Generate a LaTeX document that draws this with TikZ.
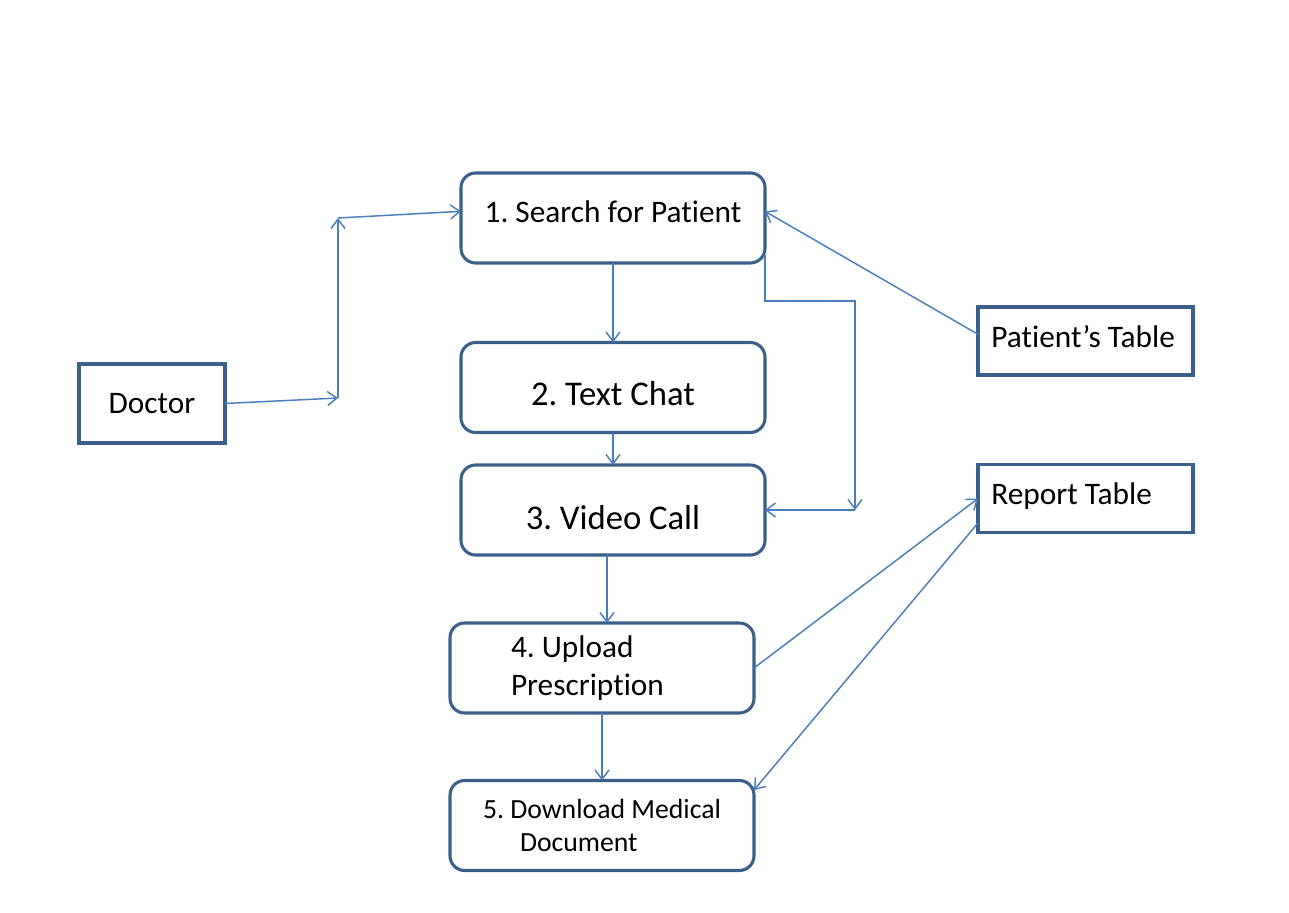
\documentclass[tikz,border=0pt]{standalone}
\usepackage{fontspec}
\setmainfont{Carlito}[Ligatures=NoCommon]
\usetikzlibrary{arrows.meta}
\definecolor{boxblue}{HTML}{3A5F8B}
\definecolor{lineblue}{HTML}{4A7EBB}
\frenchspacing
\newcommand{\shiftup}[2]{\raisebox{#1}[\height][\depth]{#2}}

\begin{document}
\begin{tikzpicture}[x=0.75pt,y=-0.75pt,
  every node/.style={outer sep=0pt, font=\fontsize{23.5}{28.5}\selectfont},
  stepbox/.style={draw=boxblue, line width=2.3pt, rounded corners=11pt, minimum width=228pt, minimum height=67.5pt},
  tablebox/.style={draw=boxblue, line width=2.3pt, minimum width=161.25pt, minimum height=51pt, text width=141.25pt, inner xsep=10pt, align=flush left},
  link/.style={draw=lineblue, line width=1.1pt, -{Straight Barb[length=7pt,width=10.5pt]}}]
\useasboundingbox (0,0) rectangle (1289,913);

\node[draw=boxblue, line width=2.3pt, minimum width=109.5pt, minimum height=59.25pt] (doctor) at (152,403.5) {Doctor};
\node[stepbox] (search) at (613,218) {\shiftup{5pt}{1. Search for Patient}};
\node[stepbox, font=\fontsize{26}{31}\selectfont] (chat) at (613,387.5) {\shiftup{-4.9pt}{2. Text Chat}};
\node[stepbox, font=\fontsize{26}{31}\selectfont] (video) at (613,510) {\shiftup{-6pt}{3. Video Call}};
\node[stepbox, text width=136.5pt, inner xsep=45.75pt, align=flush left] (upload) at (602,668) {4. Upload\\Prescription};
\node[stepbox, font=\fontsize{20.8}{24.75}\selectfont, align=left] (download) at (602,825.5) {5. Download Medical\\\hspace*{27.75pt}Document};
\node[tablebox] (ptable) at (1085.5,341) {\shiftup{3.5pt}{Patient's Table}};
\node[tablebox] (rtable) at (1085.5,498.5) {\shiftup{2pt}{Report Table}};

\coordinate (d1) at (338,398);
\coordinate (d2) at (338,218);
\coordinate (r1) at (855,301);
\coordinate (r2) at (855,510);

\draw[link] (doctor.east) -- (d1);
\draw[link] (d1) -- (d2);
\draw[link] (d2) -- ([yshift=5pt]search.west);
\draw[link] (search.south) -- (chat.north);
\draw[link] (chat.south) -- (video.north);
\draw[link] ([xshift=-4.5pt]video.south) -- ([xshift=3.75pt]upload.north);
\draw[link] (upload.south) -- (download.north);
\draw[link] ([yshift=5pt]ptable.west) -- ([yshift=5pt]search.east);
\draw[link] ([yshift=-27.75pt]search.east) |- (r1) -- (r2);
\draw[link] (r2) -- (video.east);
\draw[link] (upload.east) -- (rtable.west);
\draw[link] ([yshift=-18.4pt]rtable.west) -- ([yshift=26.6pt]download.east);
\end{tikzpicture}
\end{document}
